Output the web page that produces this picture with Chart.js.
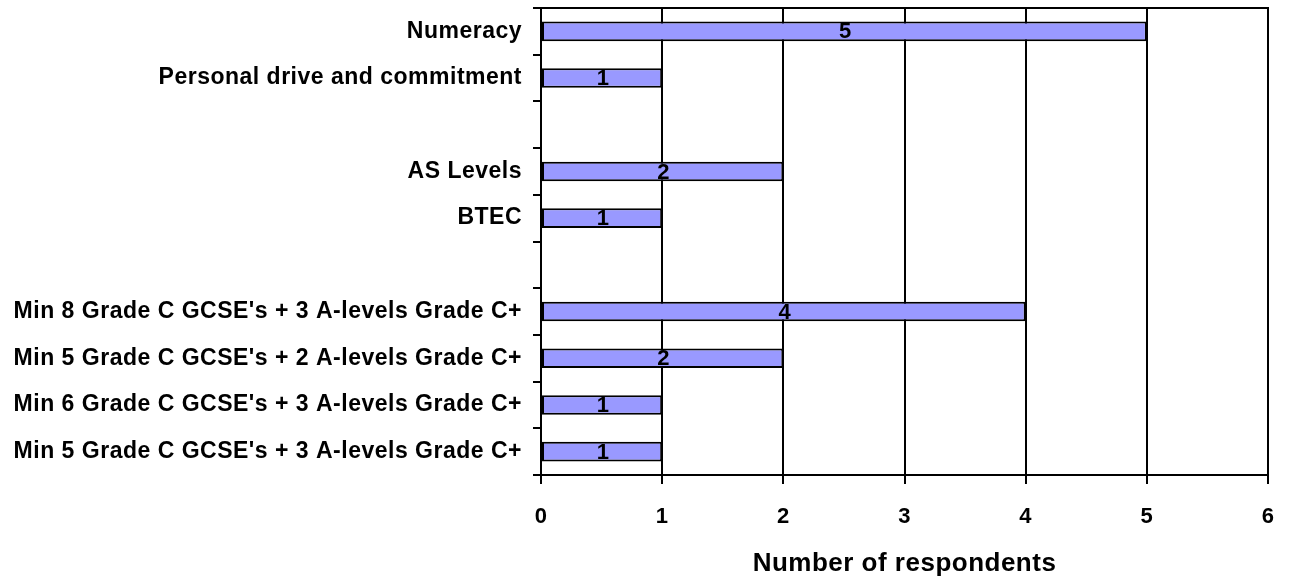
<!DOCTYPE html>
<html>
<head>
<meta charset="utf-8">
<script src="https://cdn.jsdelivr.net/npm/chart.js@4.4.1/dist/chart.umd.min.js"></script>
<style>
  html, body { margin: 0; padding: 0; background: #ffffff; }
  #wrap { width: 1289px; height: 577px; position: relative; }
</style>
</head>
<body>
<div id="wrap"><canvas id="chart" width="1289" height="577"></canvas></div>
<script>
// Entry requirements named by respondents (blank rows separate the groups)
const categories = [
  "Numeracy",
  "Personal drive and commitment",
  "",
  "AS Levels",
  "BTEC",
  " ",
  "Min 8 Grade C GCSE's + 3 A-levels Grade C+",
  "Min 5 Grade C GCSE's + 2 A-levels Grade C+",
  "Min 6 Grade C GCSE's + 3 A-levels Grade C+",
  "Min 5 Grade C GCSE's + 3 A-levels Grade C+"
];
const respondents = [5, 1, null, 2, 1, null, 4, 2, 1, 1];
const xTicks = [0, 1, 2, 3, 4, 5, 6];
const xTitle = "Number of respondents";

const FONT = "'Liberation Sans', Arial, Helvetica, sans-serif";

// Slightly looser tracking for all chart text
const textTracking = {
  id: 'textTracking',
  beforeLayout(chart) { chart.ctx.letterSpacing = '0.5px'; },
  beforeDraw(chart) { chart.ctx.letterSpacing = '0.5px'; }
};

// Closes the plot box with a line along the top edge
const plotTopBorder = {
  id: 'plotTopBorder',
  afterDraw(chart) {
    const { ctx, chartArea } = chart;
    ctx.save();
    ctx.strokeStyle = '#000000';
    ctx.lineWidth = 2;
    ctx.beginPath();
    ctx.moveTo(chartArea.left - 1, chartArea.top);
    ctx.lineTo(chartArea.right + 1, chartArea.top);
    ctx.stroke();
    ctx.restore();
  }
};

// Writes each bar's value in the middle of the bar
const barValueLabels = {
  id: 'barValueLabels',
  afterDatasetsDraw(chart) {
    const ctx = chart.ctx;
    const meta = chart.getDatasetMeta(0);
    ctx.save();
    ctx.font = "bold 22px " + FONT;
    ctx.fillStyle = "#000000";
    ctx.textAlign = "center";
    ctx.textBaseline = "middle";
    meta.data.forEach((bar, i) => {
      const v = respondents[i];
      if (v === null || v === undefined) return;
      const cx = (bar.x + bar.base) / 2;
      ctx.fillText(String(v), cx + 1, bar.y + 1);
    });
    ctx.restore();
  }
};

new Chart(document.getElementById('chart'), {
  type: 'bar',
  data: {
    labels: categories,
    datasets: [{
      data: respondents,
      backgroundColor: '#9999ff',
      borderColor: '#000000',
      borderWidth: 2,
      borderSkipped: false,
      categoryPercentage: 1,
      barPercentage: 0.42
    }]
  },
  options: {
    indexAxis: 'y',
    responsive: false,
    animation: false,
    layout: { padding: { top: 8, right: 21, left: 0, bottom: 0 } },
    plugins: { legend: { display: false }, tooltip: { enabled: false } },
    scales: {
      x: {
        min: 0,
        max: 6,
        afterBuildTicks(scale) { scale.ticks = xTicks.map(v => ({ value: v })); },
        afterFit(scale) {
          scale.height = 102;
          scale.paddingLeft = 0;
          scale.paddingRight = 0;
        },
        border: { display: true, color: '#000000', width: 2 },
        grid: { color: '#000000', lineWidth: 2, tickLength: 9, drawTicks: true },
        ticks: {
          color: '#000000',
          font: { family: FONT, size: 22, weight: 'bold' },
          padding: 20
        },
        title: {
          display: true,
          text: xTitle,
          color: '#000000',
          font: { family: FONT, size: 26, weight: 'bold' },
          padding: { top: 10, bottom: -2 }
        }
      },
      y: {
        afterFit(scale) {
          scale.width = 541;
          scale.paddingTop = 0;
          scale.paddingBottom = 0;
        },
        border: { display: true, color: '#000000', width: 2 },
        grid: { drawOnChartArea: false, drawTicks: true, tickLength: 8, color: '#000000', lineWidth: 2, offset: true },
        ticks: {
          color: '#000000',
          font: { family: FONT, size: 23, weight: 'bold' },
          padding: 11,
          autoSkip: false
        }
      }
    }
  },
  plugins: [textTracking, plotTopBorder, barValueLabels]
});
</script>
</body>
</html>
